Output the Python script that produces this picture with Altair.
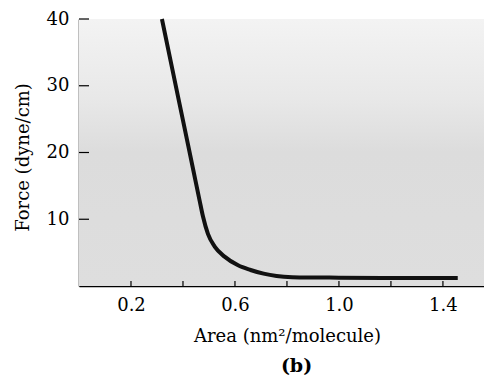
import altair as alt
import pandas as pd

# Curve data (Area nm^2/molecule, Force dyne/cm)
area = [0.319, 0.36, 0.40, 0.44, 0.464, 0.477, 0.496, 0.522, 0.56, 0.612, 0.66, 0.71, 0.76, 0.82, 0.9, 1.0, 1.2, 1.457]
force = [40, 32.3, 24.8, 17.3, 12.8, 10.4, 7.8, 5.9, 4.4, 3.1, 2.4, 1.85, 1.5, 1.32, 1.27, 1.25, 1.2, 1.2]

x_ticks = [0.2, 0.4, 0.6, 0.8, 1.0, 1.2, 1.4]
y_ticks = [10, 20, 30, 40]

XMAX = 1.558
FONT = "DejaVu Serif"

curve = pd.DataFrame({"area": area, "force": force})
xt = pd.DataFrame({"v": x_ticks})
yt = pd.DataFrame({"v": y_ticks})
bg = pd.DataFrame({"x": [0], "x2": [XMAX], "y": [0], "y2": [40]})

xscale = alt.Scale(domain=[0, XMAX], nice=False, zero=False)
yscale = alt.Scale(domain=[0, 40], nice=False)

xaxis = alt.Axis(
    values=x_ticks, format=".1f",
    labelExpr="(round(datum.value*10) % 4 == 2) ? datum.label : ''",
    title="Area (nm²/molecule)", tickSize=0, labelPadding=10, titlePadding=13,
    titleX=208,
    domainColor="black", domainWidth=1.5, grid=False,
)
yaxis = alt.Axis(
    values=y_ticks, title="Force (dyne/cm)", tickSize=0, labelPadding=10,
    titlePadding=14, titleY=138, domainColor="black", domainWidth=1.5, grid=False,
)

background = alt.Chart(bg).mark_rect(
    color=alt.Gradient(
        gradient="linear", x1=0, x2=0, y1=0, y2=1,
        stops=[
            alt.GradientStop(color="#f3f3f3", offset=0),
            alt.GradientStop(color="#e8e8e8", offset=0.3),
            alt.GradientStop(color="#dcdcdc", offset=0.5),
            alt.GradientStop(color="#dedede", offset=1),
        ],
    )
).encode(
    x=alt.X("x:Q", scale=xscale, axis=xaxis),
    x2="x2:Q",
    y=alt.Y("y:Q", scale=yscale, axis=yaxis),
    y2="y2:Q",
)

line = alt.Chart(curve).mark_line(
    color="#111111", strokeWidth=4, interpolate="monotone", strokeCap="butt"
).encode(
    x=alt.X("area:Q", scale=xscale),
    y=alt.Y("force:Q", scale=yscale),
)

xtick_rules = alt.Chart(xt).mark_rule(color="black", strokeWidth=1.2).encode(
    x=alt.X("v:Q", scale=xscale),
    y=alt.value(267),
    y2=alt.value(262),
)

ytick_rules = alt.Chart(yt).mark_rule(color="black", strokeWidth=1.2).encode(
    y=alt.Y("v:Q", scale=yscale),
    x=alt.value(0),
    x2=alt.value(10),
)

chart = alt.layer(background, line, xtick_rules, ytick_rules).properties(
    width=405,
    height=267,
    autosize=alt.AutoSizeParams(type="none"),
    padding={"left": 71, "top": 11, "right": 0, "bottom": 92},
    title=alt.Title(
        "(b)", orient="bottom", anchor="middle", fontWeight="bold",
        font=FONT, fontSize=19, offset=12, dx=15, color="black",
    ),
).configure_view(stroke=None).configure_axis(
    labelFont=FONT, titleFont=FONT, labelFontSize=18, titleFontSize=18,
    labelColor="black", titleColor="black", titleFontWeight="normal",
)

chart.save("out.html", embed_options={"renderer": "svg", "actions": False})
